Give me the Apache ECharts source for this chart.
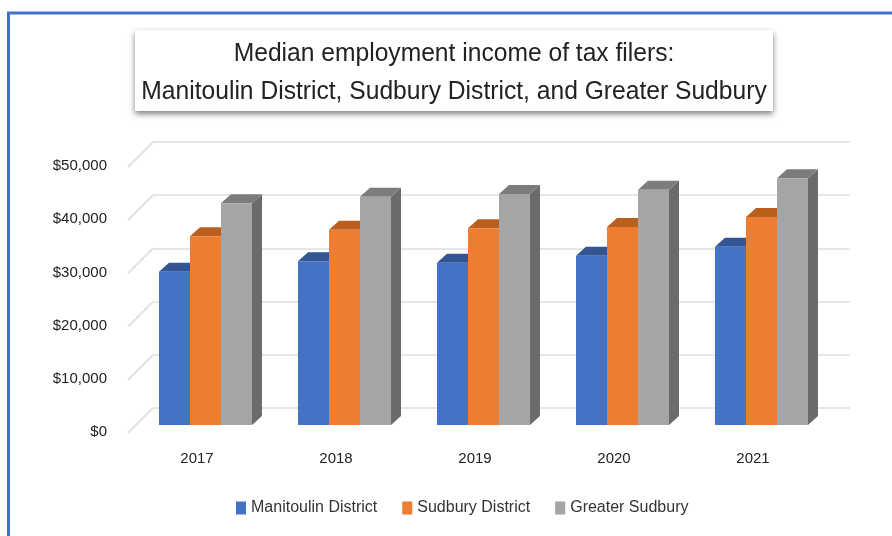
<!DOCTYPE html>
<html>
<head>
<meta charset="utf-8">
<title>Median employment income</title>
<style>
  html, body { margin: 0; padding: 0; background: #fff; }
  #chart { width: 892px; height: 536px; }
</style>
<script src="https://cdn.jsdelivr.net/npm/echarts@6/dist/echarts.min.js"></script>
</head>
<body>
<div id="chart"></div>
<script>
var years = ['2017', '2018', '2019', '2020', '2021'];
var yTicks = [0, 10000, 20000, 30000, 40000, 50000];
var manitoulin = [28800, 30800, 30500, 31800, 33500];
var sudbury = [35500, 36700, 37000, 37200, 39100];
var greater = [41700, 42900, 43400, 44200, 46400];
var titleText = 'Median employment income of tax filers:\nManitoulin District, Sudbury District, and Greater Sudbury';

var FONT = '"Liberation Sans", sans-serif';
var DEPTH_X = 10, DEPTH_Y = 9;

// front face + top + right side, so the bars look like the excel 3d ones
function barSeries(name, values, idx, front, top, side) {
    return {
        name: name,
        type: 'custom',
        xAxisIndex: 0,
        yAxisIndex: 0,
        itemStyle: { color: front },
        clip: false,
        data: values.map(function (v, i) { return [i, v]; }),
        encode: { x: 0, y: 1 },
        renderItem: function (params, api) {
            var p = api.coord([api.value(0), api.value(1)]);
            var b = api.coord([api.value(0), 0]);
            var w = api.size([1, 0])[0] * 0.223;
            var x = p[0] + (idx - 1.5) * w;
            var r = x + w;
            return {
                type: 'group',
                children: [
                    { type: 'polygon', shape: { points: [[r, p[1]], [r + DEPTH_X, p[1] - DEPTH_Y], [r + DEPTH_X, b[1] - DEPTH_Y], [r, b[1]]] }, style: { fill: side } },
                    { type: 'polygon', shape: { points: [[x, p[1]], [x + DEPTH_X, p[1] - DEPTH_Y], [r + DEPTH_X, p[1] - DEPTH_Y], [r, p[1]]] }, style: { fill: top } },
                    { type: 'rect', shape: { x: x, y: p[1], width: w, height: b[1] - p[1] }, style: { fill: front } }
                ]
            };
        }
    };
}

var chart = echarts.init(document.getElementById('chart'));
chart.setOption({
    animation: false,
    backgroundColor: '#fff',
    legend: {
        left: 231,
        top: 495,
        icon: 'rect',
        itemWidth: 10,
        itemHeight: 13,
        itemGap: 25,
        selectedMode: false,
        data: ['Manitoulin District', 'Sudbury District', 'Greater Sudbury'],
        textStyle: { fontFamily: FONT, fontSize: 16, color: '#333' }
    },
    grid: [
        { left: 136, width: 695, top: 159, height: 266 },  // front plane, bars
        { left: 153, width: 697, top: 142, height: 266 },  // back wall, gridlines
        { left: 107, width: 20, top: 166, height: 266 }    // labels on the front edge of the side wall
    ],
    xAxis: [
        {
            gridIndex: 0, type: 'category', data: years,
            axisLine: { show: false }, axisTick: { show: false },
            axisLabel: { margin: 26, padding: [0, 17, 0, 0], fontFamily: FONT, fontSize: 15, color: '#222' }
        },
        { gridIndex: 1, type: 'category', data: years, show: false },
        { gridIndex: 2, type: 'category', data: years, show: false }
    ],
    yAxis: [
        { gridIndex: 0, type: 'value', min: 0, max: 50000, interval: 10000, show: false },
        {
            gridIndex: 1, type: 'value', min: 0, max: 50000, interval: 10000,
            axisLine: { show: false }, axisTick: { show: false }, axisLabel: { show: false },
            splitLine: { lineStyle: { color: '#e6e6e6', width: 2 } }
        },
        {
            gridIndex: 2, type: 'value', min: 0, max: 50000, interval: 10000,
            axisLine: { show: false }, axisTick: { show: false }, splitLine: { show: false },
            axisLabel: {
                margin: 0,
                fontFamily: FONT, fontSize: 15, color: '#222',
                formatter: function (v) { return '$' + v.toLocaleString('en-US'); }
            }
        }
    ],
    graphic: [
        { type: 'rect', z: -2, shape: { x: 8.5, y: 13, width: 900, height: 540 }, style: { fill: '#fff', stroke: '#4472c4', lineWidth: 3 } },
        { type: 'rect', z: -1, shape: { x: 135, y: 30, width: 638, height: 81 }, style: { fill: '#fff', shadowColor: 'rgba(0,0,0,0.5)', shadowBlur: 6, shadowOffsetY: 3 } },
        {
            // no narrow font here, squeeze the text to the width of the original
            type: 'text', z: 5, x: 454, y: 73, scaleX: 0.947,
            style: { text: titleText, font: '26px ' + FONT, fill: '#222', align: 'center', verticalAlign: 'middle', lineHeight: 38 }
        }
    ],
    series: [
        {
            // side wall lines going from the back wall to the labels
            type: 'custom',
            xAxisIndex: 1,
            yAxisIndex: 1,
            clip: false,
            silent: true,
            data: yTicks.map(function (v) { return [0, v]; }),
            encode: { y: 1 },
            renderItem: function (params, api) {
                var p = api.coord([0, api.value(1)]);
                var x0 = params.coordSys.x;
                return {
                    type: 'line',
                    shape: { x1: x0, y1: p[1], x2: x0 - 25, y2: p[1] + 25 },
                    style: { stroke: '#e0e0e0', lineWidth: 2 }
                };
            }
        },
        barSeries('Manitoulin District', manitoulin, 0, '#4472c4', '#335593', '#2f5597'),
        barSeries('Sudbury District', sudbury, 1, '#ed7d31', '#b9601f', '#b9601f'),
        barSeries('Greater Sudbury', greater, 2, '#a5a5a5', '#7c7c7c', '#6b6b6b')
    ]
});
</script>
</body>
</html>
